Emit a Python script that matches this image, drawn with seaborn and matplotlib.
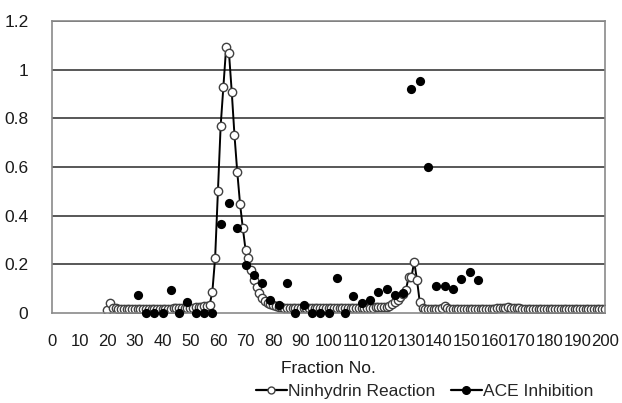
import matplotlib
matplotlib.use("Agg")
import matplotlib.pyplot as plt
from matplotlib.lines import Line2D
import seaborn as sns
import pandas as pd

# Ninhydrin reaction, every fraction from 20 to 200
ninhydrin_fraction = list(range(20, 201))
ninhydrin_value = [
    0.012, 0.040, 0.022, 0.019, 0.018, 0.018, 0.018, 0.018, 0.018, 0.018,  # 20-29
    0.018, 0.018, 0.018, 0.018, 0.018, 0.018, 0.018, 0.018, 0.018, 0.018,  # 30-39
    0.018, 0.018, 0.018, 0.018, 0.019, 0.019, 0.019, 0.020, 0.020, 0.021,  # 40-49
    0.021, 0.022, 0.023, 0.024, 0.025, 0.027, 0.029, 0.033, 0.088, 0.227,  # 50-59
    0.500, 0.770, 0.930, 1.095, 1.070, 0.910, 0.730, 0.580, 0.450, 0.350,  # 60-69
    0.260, 0.225, 0.177, 0.136, 0.108, 0.081, 0.062, 0.050, 0.042, 0.036,  # 70-79
    0.032, 0.028, 0.026, 0.024, 0.022, 0.021, 0.020, 0.020, 0.019, 0.019,  # 80-89
    0.019, 0.019, 0.019, 0.019, 0.019, 0.019, 0.019, 0.019, 0.019, 0.019,  # 90-99
    0.019, 0.019, 0.019, 0.019, 0.019, 0.019, 0.019, 0.019, 0.019, 0.019,  # 100-109
    0.019, 0.019, 0.019, 0.020, 0.020, 0.021, 0.022, 0.023, 0.024, 0.025,  # 110-119
    0.026, 0.026, 0.030, 0.036, 0.045, 0.055, 0.067, 0.080, 0.095, 0.149,  # 120-129
    0.149, 0.210, 0.136, 0.045, 0.022, 0.018, 0.017, 0.017, 0.017, 0.017,  # 130-139
    0.017, 0.020, 0.030, 0.020, 0.017, 0.017, 0.017, 0.017, 0.017, 0.017,  # 140-149
    0.017, 0.017, 0.017, 0.017, 0.017, 0.017, 0.017, 0.017, 0.018, 0.018,  # 150-159
    0.018, 0.019, 0.020, 0.021, 0.022, 0.023, 0.022, 0.021, 0.020, 0.019,  # 160-169
    0.018, 0.018, 0.018, 0.018, 0.018, 0.018, 0.018, 0.018, 0.018, 0.018,  # 170-179
    0.018, 0.018, 0.018, 0.018, 0.018, 0.018, 0.018, 0.018, 0.018, 0.018,  # 180-189
    0.018, 0.018, 0.018, 0.018, 0.018, 0.018, 0.018, 0.018, 0.018, 0.018,  # 190-199
    0.018,                                                                  # 200
]

# ACE inhibition, every third fraction
ace_fraction = [31, 34, 37, 40, 43, 46, 49, 52, 55, 58,
                61, 64, 67, 70, 73, 76, 79, 82, 85, 88,
                91, 94, 97, 100, 103, 106, 109, 112, 115, 118,
                121, 124, 127, 130, 133, 136, 139, 142, 145, 148,
                151, 154]
ace_value = [0.072, 0.0, 0.0, 0.0, 0.095, 0.0, 0.047, 0.0, 0.0, 0.0,
             0.366, 0.453, 0.350, 0.197, 0.155, 0.123, 0.053, 0.033, 0.124, 0.0,
             0.031, 0.0, 0.0, 0.0, 0.144, 0.0, 0.071, 0.040, 0.052, 0.088,
             0.100, 0.076, 0.082, 0.920, 0.953, 0.600, 0.111, 0.111, 0.097, 0.141,
             0.170, 0.135]

y_ticks = [0, 0.2, 0.4, 0.6, 0.8, 1, 1.2]
y_tick_labels = ["0", "0.2", "0.4", "0.6", "0.8", "1", "1.2"]
x_ticks = list(range(0, 201, 10))

nin_df = pd.DataFrame({"Fraction No.": ninhydrin_fraction, "value": ninhydrin_value})
ace_df = pd.DataFrame({"Fraction No.": ace_fraction, "value": ace_value})

sns.set_style("white")
plt.rcParams["font.family"] = ["Liberation Sans", "DejaVu Sans"]
text_color = "#1a1a1a"

fig = plt.figure(figsize=(6.22, 4.03), dpi=100)
ax = fig.add_axes([52 / 622, 1 - 313 / 403, (605 - 52) / 622, (313 - 21) / 403])

for y in y_ticks[1:]:
    ax.axhline(y, color="#4a4a4a", lw=1.3, zorder=1)

sns.lineplot(data=nin_df, x="Fraction No.", y="value", ax=ax, color="black", lw=1.4,
             marker="o", markersize=6, markerfacecolor="white",
             markeredgecolor="#404040", markeredgewidth=1.0, zorder=2)
sns.scatterplot(data=ace_df, x="Fraction No.", y="value", ax=ax, color="black",
                s=44, edgecolor="black", linewidth=0, clip_on=False, zorder=3)

ax.set_xlim(0, 200)
ax.set_ylim(0, 1.2)
ax.set_xticks(x_ticks)
ax.set_xticklabels([str(t) for t in x_ticks], fontsize=12, color=text_color)
ax.set_yticks(y_ticks)
ax.set_yticklabels(y_tick_labels, fontsize=12.5, color=text_color)
ax.tick_params(axis="y", length=0, pad=17)
ax.tick_params(axis="x", length=0, pad=15)
ax.set_xlabel("Fraction No.", fontsize=12.5, color=text_color, labelpad=9)
ax.set_ylabel("")

for side in ["left", "bottom", "right", "top"]:
    ax.spines[side].set_color("#8a8a8a")
    ax.spines[side].set_linewidth(1.2)

handles = [
    Line2D([], [], color="black", lw=1.6, marker="o", markersize=5,
           markerfacecolor="white", markeredgecolor="#404040"),
    Line2D([], [], color="black", lw=1.6, marker="o", markersize=5.5,
           markerfacecolor="black", markeredgecolor="black"),
]
fig.legend(handles, ["Ninhydrin Reaction", "ACE Inhibition"], loc="center",
           bbox_to_anchor=(425 / 622, 1 - 391 / 403), ncol=2, frameon=False,
           fontsize=12.5, handlelength=1.75, handletextpad=0.1, columnspacing=0.9,
           borderaxespad=0, borderpad=0)

fig.savefig("out.png", dpi=100)
